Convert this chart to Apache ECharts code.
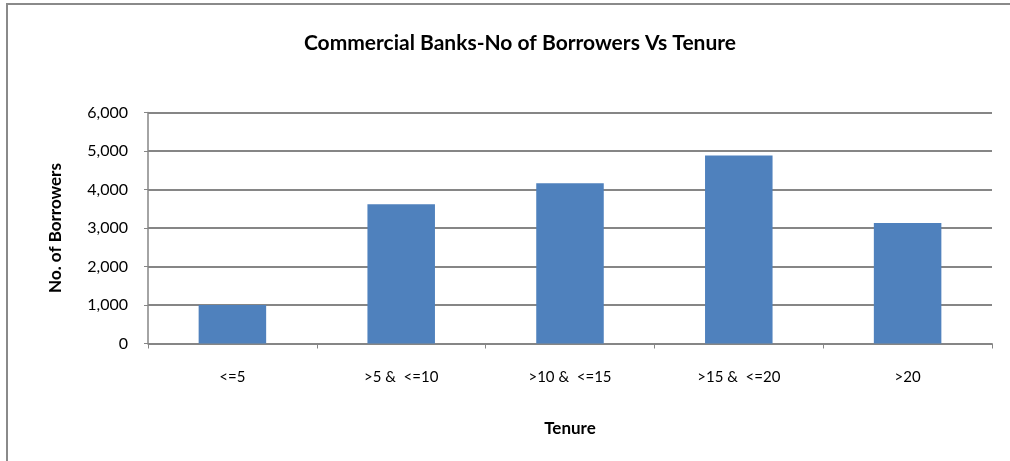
<!DOCTYPE html>
<html>
<head>
<meta charset="utf-8">
<script src="https://cdn.jsdelivr.net/npm/echarts@6/dist/echarts.min.js"></script>
<style>
  html, body { margin: 0; padding: 0; background: #fff; }
  #chart { width: 1010px; height: 461px; }
</style>
</head>
<body>
<div id="chart"></div>
<script>
// Number of borrowers by loan tenure (years)
const tenureCategories = ['<=5', '>5 &  <=10', '>10 &  <=15', '>15 &  <=20', '>20'];
const borrowerCounts = [1000, 3620, 4160, 4880, 3130];
const yTicks = { min: 0, max: 6000, interval: 1000 };

const FONT = 'Lato, "Open Sans", sans-serif';
const GRID_GREY = '#868686';

const chart = echarts.init(document.getElementById('chart'), null, { renderer: 'canvas' });

chart.setOption({
  backgroundColor: '#ffffff',
  animation: false,
  title: {
    text: 'Commercial Banks-No of Borrowers Vs Tenure',
    left: 515,
    top: 28,
    textAlign: 'center',
    textStyle: { fontFamily: FONT, fontSize: 21, fontWeight: 'bold', color: '#000' }
  },
  graphic: [{
    type: 'rect',
    shape: { x: 7, y: 4, width: 1200, height: 800 },
    style: { fill: 'none', stroke: '#8a8a8a', lineWidth: 2 },
    silent: true
  }],
  grid: { left: 148, right: 18, top: 112.5, bottom: 117.5 },
  xAxis: {
    type: 'category',
    data: tenureCategories,
    name: 'Tenure',
    nameLocation: 'middle',
    nameGap: 77,
    nameTextStyle: { fontFamily: FONT, fontSize: 17, fontWeight: 'bold', color: '#000' },
    axisLine: { show: true, lineStyle: { color: GRID_GREY, width: 1.5 } },
    axisTick: { show: true, length: 5, lineStyle: { color: GRID_GREY } },
    axisLabel: { fontFamily: FONT, fontSize: 15, color: '#000', margin: 26 }
  },
  yAxis: {
    type: 'value',
    min: yTicks.min,
    max: yTicks.max,
    interval: yTicks.interval,
    name: 'No. of Borrowers',
    nameLocation: 'middle',
    nameGap: 84,
    nameRotate: 90,
    nameTextStyle: { fontFamily: FONT, fontSize: 17, fontWeight: 'bold', color: '#000' },
    axisLine: { show: true, lineStyle: { color: GRID_GREY, width: 1.5 } },
    axisTick: { show: true, length: 4, inside: false, lineStyle: { color: GRID_GREY } },
    splitLine: { show: true, lineStyle: { color: GRID_GREY, width: 1.8 } },
    axisLabel: {
      fontFamily: FONT, fontSize: 16, color: '#000', margin: 20,
      formatter: v => v.toLocaleString('en-US')
    }
  },
  series: [{
    type: 'bar',
    data: borrowerCounts,
    barWidth: '40%',
    itemStyle: { color: '#4F81BD' }
  }]
});
</script>
</body>
</html>
